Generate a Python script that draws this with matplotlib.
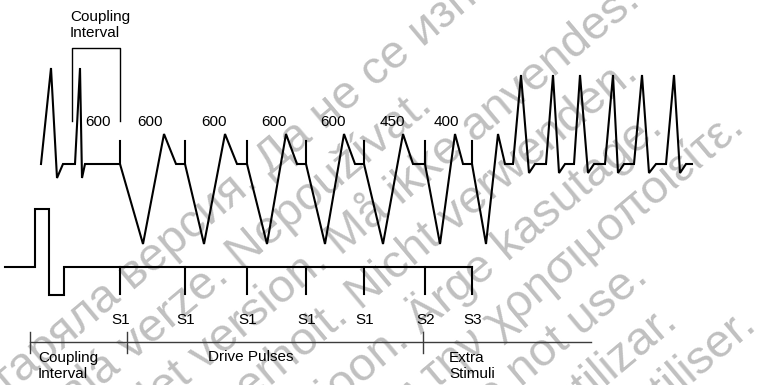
import matplotlib.pyplot as plt
from matplotlib.font_manager import FontProperties
import numpy as np

# --- data (pixel-like units, y grows downward) ---
# stimulus / pacing times
pace_x = [120, 185, 247, 306, 364, 425, 472]
stim_labels = ['S1', 'S1', 'S1', 'S1', 'S1', 'S2', 'S3']
interval_labels = ['600', '600', '600', '600', '600', '450', '400']

# intrinsic (sinus) beats before pacing: (start, peak, trough, back)
sinus_x = [[41, 51, 57, 63], [75, 80, 82, 85]]
# paced beats: trough, peak, back to baseline
paced_trough = [143, 204, 267, 325, 383, 440, 486]
paced_peak = [164, 225, 286, 344, 403, 455, 498]
paced_back = [176, 237, 297, 355, 413, 463, 505]
# induced tachycardia beats: rise start, peak, trough, back
tachy_x = [[513, 521, 529, 535], [546, 553, 559, 565], [574, 580, 588, 594],
           [605, 613, 618, 624], [634, 642, 649, 656], [666, 674, 680, 686]]
tachy_end = 692

base_y = 164
sinus_peak_y, sinus_trough_y = 68, 178
tachy_peak_y, tachy_trough_y = 75, 173
paced_trough_y, paced_peak_y = 244, 134

watermark = [
    "Остаряла версия. Да не се използва.",
    "Zastaralá verze. Nepoužívat.",
    "Forældet version. Må ikke anvendes.",
    "Version überholt. Nicht verwenden.",
    "Aegunud versioon. Ärge kasutage.",
    "Παλιά έκδοση. Μην την χρησιμοποιείτε.",
    "Outdated version. Do not use.",
    "Versión obsoleta. No utilizar.",
    "Version périmée. Ne pas utiliser.",
]
# a visible word of each watermark line and where its middle sits
wm_words = ['версия.', 'verze.', 'version.', 'Nicht', 'Ärge',
            'χρησιμοποιείτε.', 'use.', 'lizar.', 'liser.']
wm_word_xy = [(188, 229), (174, 311), (260, 309), (394, 267), (450, 291),
              (614, 224), (608, 299), (635, 347), (713, 350)]

plt.rcParams['font.family'] = ['Liberation Sans', 'DejaVu Sans']

fig = plt.figure(figsize=(7.59, 3.85), dpi=100)
ax = fig.add_axes([0, 0, 1, 1])
ax.set_xlim(0, 759)
ax.set_ylim(385, 0)
ax.axis('off')

# watermark, rotated 40 degrees
angle = 40
ux, uy = np.cos(np.radians(angle)), -np.sin(np.radians(angle))
wm_prop = FontProperties(family='Liberation Sans', size=34)
renderer = fig.canvas.get_renderer()


def text_w(s):
    return renderer.get_text_width_height_descent(s, wm_prop, ismath=False)[0]


for txt, word, (wx, wy) in zip(watermark, wm_words, wm_word_xy):
    i = txt.index(word)
    off = text_w(txt[:i]) + text_w(word) / 2 - text_w(txt) / 2
    cx, cy = wx - off * ux, wy - off * uy
    ax.text(cx, cy, txt, fontproperties=wm_prop, color='#c0c0c0', rotation=angle,
            rotation_mode='anchor', ha='center', va='center', zorder=0)

# --- ECG trace ---
xs, ys = [], []
for s in sinus_x:
    xs += s
    ys += [base_y, sinus_peak_y, sinus_trough_y, base_y]
for t, tr, pk, bk in zip(pace_x, paced_trough, paced_peak, paced_back):
    xs += [t, tr, pk, bk]
    ys += [base_y, paced_trough_y, paced_peak_y, base_y]
for b in tachy_x:
    xs += b
    ys += [base_y, tachy_peak_y, tachy_trough_y, base_y]
xs.append(tachy_end)
ys.append(base_y)
ax.plot(xs, ys, color='black', lw=1.5, solid_joinstyle='miter', zorder=2)

# pacing marks on ECG
for t in pace_x:
    ax.plot([t, t], [141, base_y], color='black', lw=1.5, zorder=2)

# interval labels
label_ref = [sinus_x[1][1]] + pace_x[:-1]
for lab, a, b in zip(interval_labels, label_ref, pace_x):
    ax.text((a + b) / 2 - 2, 122, lab, fontsize=11, ha='center', va='center', zorder=3)

# coupling interval bracket
ax.plot([72, 72, pace_x[0], pace_x[0]], [121, 48, 48, 121], color='black', lw=1.0, zorder=2)
ax.text(70, 25, 'Coupling\nInterval', fontsize=11, ha='left', va='center',
        linespacing=1.1, zorder=3)

# --- stimulus channel ---
stim_y = 267
ax.plot([5, 35, 35, 49, 49, 64, 64, pace_x[-1]],
        [stim_y, stim_y, 209, 209, 295, 295, stim_y, stim_y],
        color='black', lw=1.5, solid_joinstyle='miter', zorder=2)
for t, lab in zip(pace_x, stim_labels):
    ax.plot([t, t], [stim_y, 294], color='black', lw=1.5, zorder=2)
    ax.text(t + 1, 320, lab, fontsize=11, ha='center', va='center', zorder=3)

# --- timeline ---
ax.plot([30, 591], [342, 342], color='#3c3c3c', lw=1.0, zorder=2)
for t in [30, 127, 423]:
    ax.plot([t, t], [332, 353], color='#3c3c3c', lw=1.0, zorder=2)
ax.text(38, 366, 'Coupling\nInterval', fontsize=11, ha='left', va='center',
        linespacing=1.1, zorder=3)
ax.text(208, 357, 'Drive Pulses', fontsize=11, ha='left', va='center', zorder=3)
ax.text(449, 366, 'Extra\nStimuli', fontsize=11, ha='left', va='center',
        linespacing=1.1, zorder=3)

fig.savefig('out.png', dpi=100)
